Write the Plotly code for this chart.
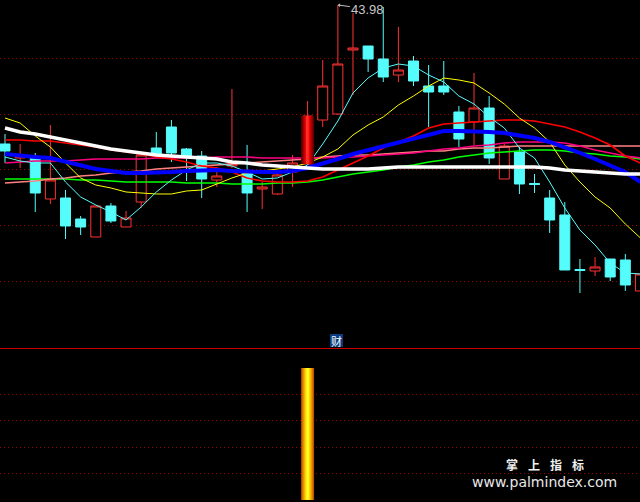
import plotly.graph_objects as go

# ---- data (prices) ----
opens = [30.08, 28.68, 28.68, 24.58, 24.68, 22.58, 20.78, 23.88, 21.78, 24.28, 29.68, 31.78, 29.58, 28.88, 26.48, 27.88, 27.28, 25.58, 25.08, 27.28, 28.08, 32.48, 33.08, 39.48, 39.88, 38.58, 36.98, 38.38, 35.88, 35.88, 33.28, 32.28, 33.68, 26.58, 29.28, 26.13, 24.68, 22.98, 17.53, 17.38, 18.58, 18.48, 15.38]
highs = [31.08, 30.08, 29.18, 31.98, 25.48, 22.88, 23.88, 24.18, 23.38, 29.08, 31.28, 32.48, 29.68, 29.38, 27.78, 35.58, 29.98, 26.28, 27.18, 28.98, 34.38, 38.48, 43.98, 43.18, 39.88, 43.78, 41.78, 38.88, 37.98, 38.38, 33.88, 37.18, 34.88, 30.08, 29.78, 27.08, 25.48, 24.28, 18.58, 18.78, 18.58, 19.08, 17.08]
lows = [28.18, 27.68, 23.28, 24.08, 20.58, 20.98, 20.78, 22.18, 21.78, 23.68, 28.78, 28.28, 26.38, 24.68, 25.78, 27.68, 23.28, 23.58, 24.98, 25.78, 28.08, 31.78, 32.98, 34.98, 37.28, 36.28, 36.28, 35.88, 31.78, 34.98, 29.78, 29.98, 28.08, 26.58, 25.08, 25.18, 21.18, 17.48, 15.18, 16.88, 16.38, 15.38, 15.38]
closes = [29.38, 28.88, 25.18, 26.48, 21.88, 21.78, 23.88, 22.38, 22.68, 28.98, 28.98, 29.18, 28.88, 26.58, 26.88, 28.08, 25.18, 25.78, 26.98, 28.18, 32.88, 35.88, 38.08, 39.68, 38.58, 36.78, 37.48, 36.38, 35.28, 35.28, 30.58, 33.68, 28.68, 29.88, 26.08, 26.03, 22.48, 17.48, 17.43, 17.78, 16.78, 15.98, 17.08]

ma_cyan = [28.78, 28.38, 28.18, 28.18, 26.28, 24.78, 23.98, 23.28, 22.48, 23.78, 25.28, 26.48, 27.48, 28.18, 28.18, 27.88, 27.28, 26.58, 26.68, 27.28, 27.98, 30.08, 32.38, 35.18, 36.68, 37.68, 38.08, 37.88, 36.98, 36.28, 34.88, 34.08, 32.78, 31.68, 29.68, 28.68, 26.28, 23.68, 21.48, 19.98, 18.18, 17.18, 17.08]
ma_yellow = [32.68, 32.18, 30.88, 29.78, 28.18, 26.68, 25.98, 25.68, 25.28, 25.18, 25.08, 25.08, 25.38, 25.48, 26.08, 26.68, 27.18, 27.38, 27.58, 27.78, 28.18, 28.78, 29.58, 30.98, 31.98, 32.78, 33.98, 34.88, 35.88, 36.68, 36.48, 36.18, 35.18, 34.08, 32.68, 31.68, 30.28, 27.98, 26.28, 24.78, 23.68, 22.08, 20.68]
ma_red = [30.48, 30.48, 30.38, 30.38, 30.18, 29.98, 29.78, 29.48, 29.28, 29.08, 28.78, 28.58, 28.28, 27.88, 27.68, 27.28, 26.68, 26.38, 26.28, 26.28, 26.38, 26.78, 27.48, 28.18, 28.88, 29.68, 30.28, 30.88, 31.68, 32.08, 32.18, 32.28, 32.38, 32.48, 32.48, 32.38, 32.08, 31.78, 31.28, 30.68, 29.98, 28.88, 28.18]
ma_magenta = [28.18, 28.28, 28.38, 28.38, 28.38, 28.48, 28.58, 28.58, 28.58, 28.58, 28.68, 28.68, 28.68, 28.68, 28.78, 28.78, 28.78, 28.68, 28.68, 28.68, 28.68, 28.68, 28.78, 28.78, 28.88, 28.98, 29.08, 29.18, 29.38, 29.58, 29.68, 29.88, 29.98, 30.18, 30.28, 30.28, 30.28, 30.18, 29.88, 29.48, 29.18, 28.88, 28.68]
ma_salmon = [26.18, 26.28, 26.38, 26.58, 26.68, 26.88, 26.98, 27.18, 27.28, 27.38, 27.58, 27.68, 27.78, 27.88, 27.98, 28.08, 28.18, 28.28, 28.38, 28.48, 28.58, 28.78, 28.88, 28.98, 28.98, 29.08, 29.18, 29.28, 29.38, 29.38, 29.58, 29.68, 29.68, 29.78, 29.88, 29.88, 29.88, 29.88, 29.88, 29.88, 29.88, 29.88, 29.88]
ma_green = [26.58, 26.58, 26.58, 26.58, 26.58, 26.48, 26.48, 26.38, 26.28, 26.28, 26.28, 26.28, 26.18, 26.18, 26.18, 26.08, 26.08, 26.08, 26.18, 26.18, 26.28, 26.48, 26.78, 27.08, 27.28, 27.48, 27.78, 27.98, 28.28, 28.48, 28.78, 28.98, 29.18, 29.28, 29.38, 29.48, 29.48, 29.38, 29.18, 29.08, 28.88, 28.78, 28.58]
ma_blue = [29.08, 28.88, 28.78, 28.68, 28.28, 27.98, 27.58, 27.38, 27.18, 27.18, 27.18, 27.28, 27.38, 27.48, 27.48, 27.38, 27.28, 27.28, 27.28, 27.38, 27.68, 28.08, 28.58, 29.08, 29.48, 29.88, 30.28, 30.68, 31.08, 31.38, 31.38, 31.38, 31.28, 31.18, 30.98, 30.68, 30.28, 29.78, 29.18, 28.58, 27.88, 27.28, 26.28]
ma_white = [31.68, 31.28, 31.08, 30.78, 30.48, 30.18, 29.88, 29.58, 29.38, 29.18, 28.98, 28.88, 28.78, 28.68, 28.58, 28.28, 28.18, 27.98, 27.88, 27.78, 27.68, 27.58, 27.58, 27.58, 27.58, 27.68, 27.78, 27.78, 27.78, 27.78, 27.78, 27.78, 27.78, 27.78, 27.78, 27.78, 27.68, 27.48, 27.38, 27.28, 27.18, 27.08, 27.08]

signal = [0, 0, 0, 0, 0, 0, 0, 0, 0, 0, 0, 0, 0, 0, 0, 0, 0, 0, 0, 0, 100, 0, 0, 0, 0, 0, 0, 0, 0, 0, 0, 0, 0, 0, 0, 0, 0, 0, 0, 0, 0, 0, 0]

grid_prices = [38.68, 33.08, 27.48, 21.88, 16.28]
grid_signal = [20, 40, 60, 80]

x = list(range(len(opens)))

XR = [-0.3305, 41.97]
YR = [9.68, 44.48]
Y2R = [-1.52, 115.15]

fig = go.Figure()

# candles (below the MA lines)
fig.add_trace(go.Candlestick(
    x=x, open=opens, high=highs, low=lows, close=closes,
    increasing=dict(line=dict(color='#ff3232', width=1), fillcolor='#000000'),
    decreasing=dict(line=dict(color='#54fcfc', width=1), fillcolor='#54fcfc'),
    whiskerwidth=0, xaxis='x', yaxis='y', hoverinfo='skip'))

lines = [
    (ma_green, '#00ff00', 1.6),
    (ma_salmon, '#ff8080', 1.6),
    (ma_magenta, '#ff0080', 1.6),
    (ma_red, '#ff0000', 1.6),
    (ma_yellow, '#ffff00', 1.0),
    (ma_cyan, '#55ffff', 1.0),
    (ma_blue, '#0000ff', 4.0),
    (ma_white, '#ffffff', 3.5),
]
for vals, col, w in lines:
    fig.add_trace(go.Scatter(x=x, y=vals, mode='lines', line=dict(color=col, width=w),
                             xaxis='x', yaxis='y', hoverinfo='skip'))

# gradient stick over the signalled candle
stick_idx = [i for i, v in enumerate(signal) if v > 0]
red_grad = ['#5a0000', '#7a0000', '#9c0000', '#be0000', '#de0000', '#f51010', '#ff2a2a']
n = len(red_grad)
for k, col in enumerate(red_grad):
    fig.add_trace(go.Bar(
        x=stick_idx, y=[closes[i] - opens[i] for i in stick_idx],
        base=[opens[i] for i in stick_idx], width=0.86 * (1 - k / n),
        marker=dict(color=col, line=dict(width=0)), xaxis='x', yaxis='y3', hoverinfo='skip'))

# bottom indicator bar with gold gradient
gold_grad = ['#b85800', '#d87800', '#ec9c00', '#f8c000', '#ffe000', '#ffff30']
n2 = len(gold_grad)
for k, col in enumerate(gold_grad):
    fig.add_trace(go.Bar(
        x=x, y=signal, width=0.86 * (1 - k / n2),
        marker=dict(color=col, line=dict(width=0)), xaxis='x2', yaxis='y2', hoverinfo='skip'))

imax = highs.index(max(highs))

fig.update_layout(
    width=640, height=502, margin=dict(l=0, r=0, t=0, b=0),
    paper_bgcolor='#000000', plot_bgcolor='#000000', showlegend=False,
    barmode='overlay', boxgap=0.34, boxgroupgap=0,
    xaxis=dict(domain=[0, 1], anchor='y', range=XR, showgrid=False, showticklabels=False,
               zeroline=False, showline=True, linecolor='#c80000', linewidth=1,
               ticks='', rangeslider=dict(visible=False)),
    yaxis=dict(domain=[0.3068, 1], anchor='x', range=YR, tickvals=grid_prices,
               showticklabels=False, showgrid=True, gridcolor='#9a0000', gridwidth=1,
               griddash='1px,3px', zeroline=False, ticks=''),
    yaxis3=dict(overlaying='y', anchor='x', range=YR, visible=False),
    xaxis2=dict(domain=[0, 1], anchor='y2', range=XR, showgrid=False, showticklabels=False,
                zeroline=False, ticks=''),
    yaxis2=dict(domain=[0, 0.3068], anchor='x2', range=Y2R, tickvals=grid_signal,
                showticklabels=False, showgrid=True, gridcolor='#9a0000', gridwidth=1,
                griddash='1px,3px', zeroline=False, ticks=''),
    shapes=[
        dict(type='rect', xref='paper', yref='paper', x0=330 / 640, x1=343 / 640,
             y0=1 - 347 / 502, y1=1 - 334 / 502, fillcolor='#0c3c80', line=dict(width=0),
             layer='above'),
    ],
    annotations=[
        dict(x=imax, y=highs[imax], xref='x', yref='y', text=f'{highs[imax]:.2f}',
             showarrow=True, ax=30, ay=4, arrowcolor='#c0c0c0', arrowwidth=1,
             arrowhead=1, arrowsize=0.7, standoff=0,
             font=dict(family='Liberation Sans, Arial', size=13, color='#c8c8c8')),
        dict(x=336.5 / 640, y=1 - 340.5 / 502, xref='paper', yref='paper', text='财',
             showarrow=False, borderpad=0, xanchor='center', yanchor='middle',
             font=dict(family='Noto Sans CJK SC', size=11, color='#ffffff')),
        dict(x=544.5 / 640, y=1 - 481.5 / 502, xref='paper', yref='paper',
             text='www.palmindex.com', showarrow=False, borderpad=0,
             xanchor='center', yanchor='middle',
             font=dict(family='DejaVu Sans', size=14, color='#e8e8e8')),
    ] + [
        dict(x=cx / 640, y=1 - 464 / 502, xref='paper', yref='paper', text=f'<b>{ch}</b>',
             showarrow=False, borderpad=0, xanchor='center', yanchor='middle',
             font=dict(family='Noto Sans CJK SC', size=12, color='#f0f0f0'))
        for ch, cx in zip(['掌', '上', '指', '标'], [511.5, 534, 556, 578])
    ],
)

fig.write_html('out.html', config={'displayModeBar': False},
               post_script="document.body.style.margin='0';document.body.style.overflow='hidden';")
